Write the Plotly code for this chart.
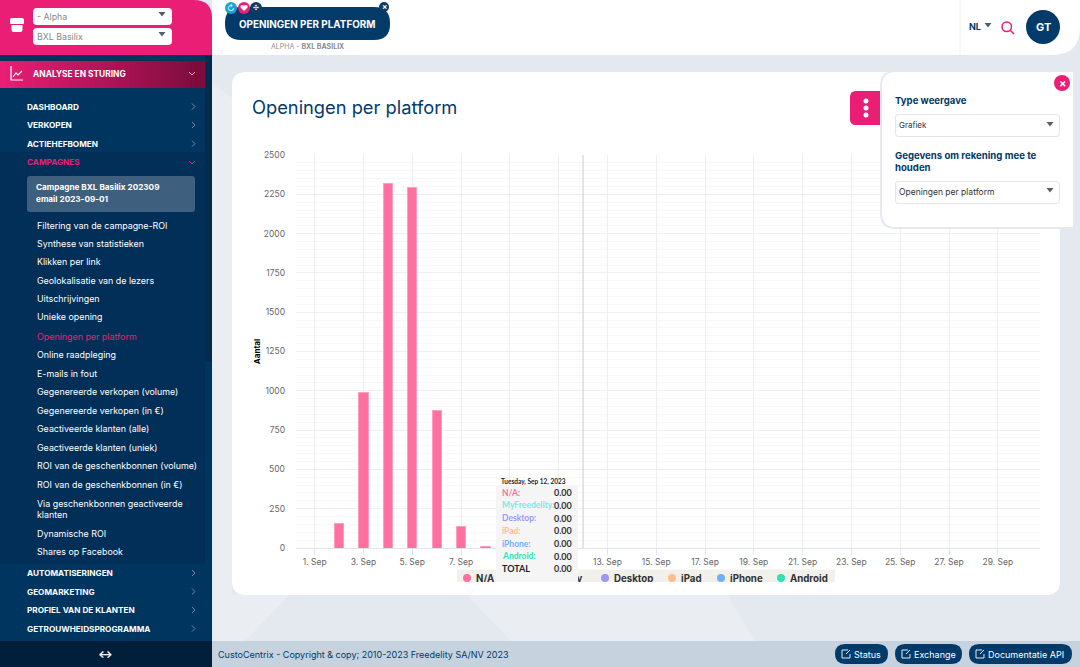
import pandas as pd
import plotly.graph_objects as go
import numpy as np


W, H = 1080, 667
dates = pd.date_range('2023-09-01', '2023-09-30', freq='D')

na_list = [None, 157, 990, 2320, 2295, 876, 135, 8, None, None, None, 0, None, None, None,
           None, None, None, None, None, None, None, None, None, None, None, None, None, None, None]
platforms = {'N/A': (na_list, '#ff6f9f'),
             'MyFreedelity': ([0] * 30, '#7ee8e8'),
             'Desktop': ([0] * 30, '#9c97f5'),
             'iPad': ([0] * 30, '#ffbe8c'),
             'iPhone': ([0] * 30, '#6fb1ff'),
             'Android': ([0] * 30, '#33e0b5')}

fig = go.Figure(data=[go.Bar(
    x=dates,
    y=vals,
    name=name,
    width=0.38 * 86400000,  # bar width in ms
    marker=dict(color=col, line=dict(color='#ff9fbe', width=[1 if v else 0 for v in vals]))
) for name, (vals, col) in platforms.items()])

# lighter facets of the page background
facets = [
    [(212, 83), (232, 98), (232, 595), (289, 595), (245, 641), (212, 641)],
    [(467, 595), (511, 641), (755, 641), (727, 595)],
]

# pixel boxes: x0, y0, x1, y1, colour, corner radii (tl, tr, br, bl), layer
boxes = [
    (212, 0, 1080, 55, '#ffffff', (0, 0, 28, 0), 'below'),
    (232, 72, 1060, 595, '#ffffff', (14, 14, 14, 14), 'below'),
    (0, 0, 212, 55, '#e91e74', (0, 18, 0, 0), 'above'),
    (0, 55, 212, 667, '#003560', (0, 0, 0, 0), 'above'),
    (205, 55, 212, 362, '#022a4e', (0, 0, 0, 0), 'above'),
    (0, 152, 205, 564, '#012f57', (0, 0, 0, 0), 'above'),
    (0, 641, 212, 667, '#011f3b', (0, 0, 0, 0), 'above'),
    (27, 176, 195, 212, '#3f5f7e', (3, 3, 3, 3), 'above'),
    (33, 8, 172, 25, '#ffffff', (4, 4, 4, 4), 'above'),
    (33, 28, 172, 45, '#ffffff', (4, 4, 4, 4), 'above'),
    (225, 7, 390, 40, '#023a69', (16, 16, 16, 16), 'above'),
    (212, 641, 1080, 667, '#c6d2dd', (0, 0, 0, 0), 'above'),
    (835, 644, 888, 664, '#023a69', (10, 10, 10, 10), 'above'),
    (895, 644, 962, 664, '#023a69', (10, 10, 10, 10), 'above'),
    (969, 644, 1072, 664, '#023a69', (10, 10, 10, 10), 'above'),
    (850, 91, 884, 125, '#e91e74', (6, 0, 0, 6), 'above'),
    (880, 71, 1075, 229, '#e6eaef', (15, 0, 0, 15), 'above'),  # soft edge of the panel
    (882, 72, 1073, 227, '#ffffff', (14, 0, 0, 14), 'above'),
    (895, 114, 1060, 137, '#e3e6ea', (4, 4, 4, 4), 'above'),
    (896, 115, 1059, 136, '#ffffff', (3, 3, 3, 3), 'above'),
    (895, 181, 1060, 204, '#e3e6ea', (4, 4, 4, 4), 'above'),
    (896, 182, 1059, 203, '#ffffff', (3, 3, 3, 3), 'above'),
    (457, 569.5, 835, 590, '#f1f0eb', (0, 0, 0, 0), 'above'),
    (10, 18, 24, 24, '#ffffff', (2, 2, 1, 1), 'above'),
    (11.5, 25, 22.5, 32, '#ffffff', (0, 0, 2, 2), 'above'),
]
# gradient of the active menu entry
for i in range(41):
    t = i / 40
    col = 'rgb(%d,%d,%d)' % (233 - 110 * t, 30 - 18 * t, 116 - 56 * t)
    boxes.append((i * 5, 61, (i + 1) * 5 + 0.5, 88, col, (0, 0, 0, 0), 'above'))

# circles: cx, cy, r, colour
circles = [
    (231, 8, 6, '#1ba3d0'), (244, 8, 6, '#e91e74'), (256, 8, 6, '#0d3c66'), (384, 7, 5, '#0d3c66'),
    (1043, 27, 17, '#023a69'), (1062, 83, 8, '#e91e74'),
    (866, 101, 2.5, '#ffffff'), (866, 108, 2.5, '#ffffff'), (866, 115, 2.5, '#ffffff'),
    (467, 578, 4, '#ff6f9f'), (510, 578, 4, '#7ee8e8'), (605, 578, 4, '#9c97f5'),
    (672, 578, 4, '#ffbe8c'), (721, 578, 4, '#6fb1ff'), (781, 578, 4, '#33e0b5'),
]

# filled triangles for the select carets
carets = [(162, 14), (162, 34), (1050, 124), (1050, 190), (988, 25)]

# open lines: points, colour, width
lines = [
    ([(960, 0), (960, 55)], '#eef0f3', 1),
    ([(1010, 30), (1014, 34)], '#e91e74', 1.5),
    ([(11, 66), (11, 80), (23, 80)], '#ffffff', 1.2),
    ([(13, 77), (16, 73), (18, 75), (22, 71)], '#ffffff', 1.2),
    ([(189, 72), (192, 75), (195, 72)], '#f0a6c4', 1),
    ([(189, 161), (192, 164), (195, 161)], '#e91e74', 1),
]
for yy in [106.5, 125, 143.7, 573, 591.5, 610, 628.5]:
    lines.append(([(192, yy - 3), (195, yy), (192, yy + 3)], '#6f8ba5', 1))
# little external link marks in the footer buttons
for xx in [842, 902, 976]:
    lines.append(([(xx + 6, 650), (xx, 650), (xx, 658), (xx + 8, 658), (xx + 8, 654)], '#ffffff', 0.9))
    lines.append(([(xx + 4, 654), (xx + 8, 650)], '#ffffff', 0.9))

shapes = []
for pts in facets:
    path = 'M ' + ' L '.join('%.5f,%.5f' % (px / W, 1 - py / H) for px, py in pts) + ' Z'
    shapes.append(dict(type='path', xref='paper', yref='paper', path=path, fillcolor='#eaeef3', line_width=0, layer='below'))
for x0, y0, x1, y1, col, (a, b, c, d), layer in boxes:
    path = 'M %f,%f ' % (x0 + a, y0)
    path += 'L %f,%f Q %f,%f %f,%f ' % (x1 - b, y0, x1, y0, x1, y0 + b)
    path += 'L %f,%f Q %f,%f %f,%f ' % (x1, y1 - c, x1, y1, x1 - c, y1)
    path += 'L %f,%f Q %f,%f %f,%f ' % (x0 + d, y1, x0, y1, x0, y1 - d)
    path += 'L %f,%f Q %f,%f %f,%f Z' % (x0, y0 + a, x0, y0, x0 + a, y0)
    # turn pixels into paper fractions
    toks = path.split(' ')
    for k, tok in enumerate(toks):
        if ',' in tok:
            px, py = tok.split(',')
            toks[k] = '%.5f,%.5f' % (float(px) / W, 1 - float(py) / H)
    shapes.append(dict(type='path', xref='paper', yref='paper', path=' '.join(toks),
                       fillcolor=col, line_width=0, layer=layer))
for cx, cy, r, col in circles:
    shapes.append(dict(type='circle', xref='paper', yref='paper', x0=(cx - r) / W, x1=(cx + r) / W,
                       y0=1 - (cy + r) / H, y1=1 - (cy - r) / H, fillcolor=col, line_width=0, layer='above'))
# search glass ring
shapes.append(dict(type='circle', xref='paper', yref='paper', x0=1002 / W, x1=1011.5 / W, y0=1 - 31.5 / H, y1=1 - 22 / H,
                   line=dict(color='#e91e74', width=1.5), layer='above'))
for cx, cy in carets:
    path = 'M %.5f,%.5f L %.5f,%.5f L %.5f,%.5f Z' % ((cx - 3.5) / W, 1 - (cy - 2) / H, (cx + 3.5) / W, 1 - (cy - 2) / H,
                                                     cx / W, 1 - (cy + 2.5) / H)
    shapes.append(dict(type='path', xref='paper', yref='paper', path=path, fillcolor='#555f6b', line_width=0, layer='above'))
for pts, col, wd in lines:
    path = 'M ' + ' L '.join('%.5f,%.5f' % (px / W, 1 - py / H) for px, py in pts)
    shapes.append(dict(type='path', xref='paper', yref='paper', path=path, line=dict(color=col, width=wd), layer='above'))
# crosshair of the hovered day
shapes.append(dict(type='line', xref='x', yref='y', x0='2023-09-12', x1='2023-09-12', y0=0, y1=2500,
                   line=dict(color='#cccccc', width=1), layer='above'))

# texts: x, y, text, size, colour, anchor
sans = 'Inter'
texts = [
    (37, 17, '- Alpha', 8.8, '#8a8a8a', 'left'), (37, 36.5, 'BXL Basilix', 8.8, '#8a8a8a', 'left'),
    (307, 24, '<b>OPENINGEN PER PLATFORM</b>', 9.9, '#ffffff', 'center'),
    (307, 46, 'ALPHA - <b>BXL BASILIX</b>', 7, '#8d8d8d', 'center'),
    (33, 73.5, '<b>ANALYSE EN STURING</b>', 8.4, '#ffffff', 'left'),
    (252, 106.5, 'Openingen per platform', 18.3, '#023a69', 'left'),
    (969, 26, '<b>NL</b>', 9, '#023a69', 'left'), (1043, 26.5, '<b>GT</b>', 11, '#ffffff', 'center'),
    (895, 100.5, '<b>Type weergave</b>', 9.6, '#023a69', 'left'),
    (895, 156, '<b>Gegevens om rekening mee te</b>', 9.6, '#023a69', 'left'),
    (895, 167.5, '<b>houden</b>', 9.6, '#023a69', 'left'),
    (899, 125, 'Grafiek', 8, '#333333', 'left'), (899, 191.5, 'Openingen per platform', 8.5, '#333333', 'left'),
    (1062, 83, '<b>×</b>', 11, '#ffffff', 'center'), (384, 7, '<b>×</b>', 8, '#ffffff', 'center'),
    (244, 8, '♥', 8, '#ffffff', 'center'), (231, 8, '↻', 8, '#ffffff', 'center'), (256, 8, '✣', 7, '#ffffff', 'center'),
    (105, 654, '<b>↔</b>', 11, '#ffffff', 'center'),
    (218, 654, 'CustoCentrix - Copyright &amp; copy; 2010-2023 Freedelity SA/NV 2023', 9, '#023a69', 'left'),
    (854, 654, 'Status', 9, '#ffffff', 'left'), (914, 654, 'Exchange', 9, '#ffffff', 'left'),
    (988, 654, 'Documentatie API', 9, '#ffffff', 'left'),
    (36, 187, '<b>Campagne BXL Basilix 202309</b>', 8.2, '#ffffff', 'left'),
    (36, 199.5, '<b>email 2023-09-01</b>', 8.2, '#ffffff', 'left'),
    (476, 578, '<b>N/A</b>', 9.7, '#333333', 'left'), (520, 578, '<b>MyFreedelity</b>', 9.7, '#333333', 'left'),
    (614, 578, '<b>Desktop</b>', 9.7, '#333333', 'left'), (681, 578, '<b>iPad</b>', 9.7, '#333333', 'left'),
    (730, 578, '<b>iPhone</b>', 9.7, '#333333', 'left'), (790, 578, '<b>Android</b>', 9.7, '#333333', 'left'),
]
menu = [(106.5, 'DASHBOARD'), (125, 'VERKOPEN'), (143.7, 'ACTIEHEFBOMEN'), (573, 'AUTOMATISERINGEN'),
        (591.5, 'GEOMARKETING'), (610, 'PROFIEL VAN DE KLANTEN'), (628.5, 'GETROUWHEIDSPROGRAMMA')]
for yy, label in menu:
    texts.append((27, yy, '<b>%s</b>' % label, 8.2, '#ffffff', 'left'))
texts.append((27, 162.3, '<b>CAMPAGNES</b>', 8.2, '#e91e74', 'left'))
submenu = [(225, 'Filtering van de campagne-ROI'), (243, 'Synthese van statistieken'), (261.7, 'Klikken per link'),
           (280, 'Geolokalisatie van de lezers'), (298.7, 'Uitschrijvingen'), (317, 'Unieke opening'),
           (354.5, 'Online raadpleging'), (373, 'E-mails in fout'), (391.5, 'Gegenereerde verkopen (volume)'),
           (410, 'Gegenereerde verkopen (in €)'), (428.5, 'Geactiveerde klanten (alle)'),
           (447, 'Geactiveerde klanten (uniek)'), (465.5, 'ROI van de geschenkbonnen (volume)'),
           (484, 'ROI van de geschenkbonnen (in €)'), (503, 'Via geschenkbonnen geactiveerde'),
           (514.5, 'klanten'), (533, 'Dynamische ROI'), (551.5, 'Shares op Facebook')]
for yy, label in submenu:
    texts.append((36.5, yy, label, 8.9, '#ffffff', 'left'))
texts.append((36.5, 336, 'Openingen per platform', 8.9, '#e91e74', 'left'))

annotations = [dict(xref='paper', yref='paper', x=px / W, y=1 - py / H, text=txt, showarrow=False, xanchor=anc, yanchor='middle',
                    borderpad=0, borderwidth=0,
                    font=dict(family=sans, size=size, color=col)) for px, py, txt, size, col, anc in texts]

# white strip cuts the legend off, then the tooltip sits on top of it
annotations.append(dict(xref='paper', yref='paper', x=455 / W, y=1 - 581.5 / H, xanchor='left', yanchor='top', text=' ', showarrow=False,
                        width=385, height=12, bgcolor='#ffffff', borderpad=0, borderwidth=0))
annotations.append(dict(xref='paper', yref='paper', x=496 / W, y=1 - 485 / H, xanchor='left', yanchor='top', text=' ', showarrow=False,
                        width=82, height=96.5, bgcolor='#f5f5f5', borderpad=0, borderwidth=0))
narrow = 'Lato'
annotations.append(dict(xref='paper', yref='paper', x=501 / W, y=1 - 482 / H, xanchor='left', yanchor='middle', text='<b>Tuesday, Sep 12, 2023</b>',
                        borderpad=0, borderwidth=0, showarrow=False, font=dict(family=narrow, size=6.5, color='#222222')))
row_y = [492.7, 505.3, 518, 530.7, 543.5, 556]
for yy, (name, (vals, col)) in zip(row_y, platforms.items()):
    annotations.append(dict(xref='paper', yref='paper', x=502 / W, y=1 - yy / H, xanchor='left', yanchor='middle', text='<b>%s:</b>' % name,
                            borderpad=0, borderwidth=0, showarrow=False, font=dict(family=narrow, size=8.5, color=col)))
    annotations.append(dict(xref='paper', yref='paper', x=572 / W, y=1 - yy / H, xanchor='right', yanchor='middle', text='<b>%.2f</b>' % vals[11],
                            borderpad=0, borderwidth=0, showarrow=False, font=dict(family=narrow, size=9, color='#333333')))
annotations.append(dict(xref='paper', yref='paper', x=502 / W, y=1 - 568.5 / H, xanchor='left', yanchor='middle', text='<b>TOTAL</b>',
                        borderpad=0, borderwidth=0, showarrow=False, font=dict(family=narrow, size=9, color='#222222')))
annotations.append(dict(xref='paper', yref='paper', x=572 / W, y=1 - 568.5 / H, xanchor='right', yanchor='middle',
                        text='<b>%.2f</b>' % sum(v[0][11] for v in platforms.values()), borderpad=0, borderwidth=0,
                        showarrow=False, font=dict(family=narrow, size=9, color='#333333')))

# tight layout
fig.update_layout(
    width=W, height=H,
    margin=dict(l=0, r=0, b=0, t=0, autoexpand=False),
    paper_bgcolor='#e4e9f0',
    plot_bgcolor='rgba(0,0,0,0)',
    barmode='stack',
    showlegend=False,
    shapes=shapes,
    annotations=annotations,
    font=dict(family=sans, size=8.5, color='#666666'),
    xaxis=dict(domain=[295.7 / W, 1040 / W],
               range=['2023-08-31 05:20', '2023-09-30 17:30'],
               tick0='2023-09-01', dtick=172800000, tickformat='%-d. %b',
               showgrid=True, gridcolor='#efefef', ticks='outside', ticklen=6, tickcolor='#dfe5f3',
               showline=True, linecolor='#dfe5f3', linewidth=1, zeroline=False),
    yaxis=dict(domain=[1 - 548 / H, 1 - 155 / H],
               range=[0, 2500], dtick=250, showgrid=True, gridcolor='#eeeeee', zeroline=False,
               ticks='outside', ticklen=8, tickcolor='rgba(0,0,0,0)',
               minor=dict(dtick=50, showgrid=True, gridcolor='#f7f7f7'),
               title=dict(text='<b>Aantal</b>', font=dict(size=8, color='#000000'), standoff=1)),
)

fig.write_html("out.html", post_script="document.body.style.margin = '0';", config=dict(displayModeBar=False))
